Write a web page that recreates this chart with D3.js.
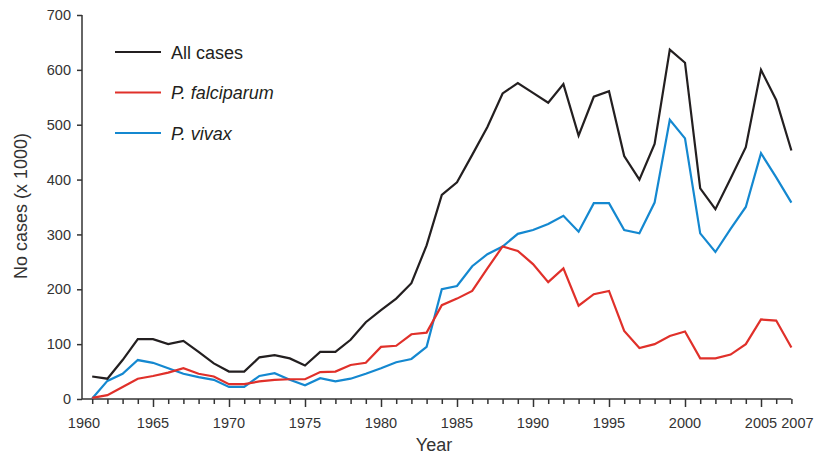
<!DOCTYPE html>
<html>
<head>
<meta charset="utf-8">
<script src="https://cdn.jsdelivr.net/npm/d3@7"></script>
<style>
  body { margin: 0; background: #fff; }
  svg { font-family: 'Liberation Sans', Arial, sans-serif; }
  .axis text { fill: #333; font-size: 14.5px; }
  .axis line, .axis path { stroke: #333; stroke-width: 1.5; }
  .series { fill: none; stroke-width: 2.2; stroke-linejoin: miter; }
</style>
</head>
<body>
<svg width="815" height="455"></svg>
<script>
// years 1961 - 2007
const years = d3.range(1961, 2008)

// cases x 1000
const allCases = [41, 37, 71, 109, 109, 100, 106, 86, 65, 50,
  50, 76, 80, 74, 61, 86, 86, 108, 140, 162,
  183, 211, 280, 372, 395, 445, 496, 557, 576, 558,
  540, 574, 480, 551, 561, 443, 400, 465, 637, 613,
  384, 346, 402, 459, 600, 545, 453]

const falciparum = [2, 7, 22, 37, 42, 48, 56, 46, 41, 27,
  27, 32, 35, 36, 36, 49, 50, 62, 66, 95,
  97, 118, 121, 171, 183, 197, 238, 278, 270, 246,
  213, 238, 170, 191, 197, 124, 93, 100, 115, 123,
  74, 74, 81, 100, 145, 143, 94]

const vivax = [1, 33, 46, 71, 66, 56, 46, 40, 35, 22,
  22, 42, 47, 35, 25, 38, 32, 37, 46, 56,
  67, 73, 95, 200, 206, 242, 264, 278, 301, 308,
  319, 334, 305, 357, 357, 308, 302, 358, 509, 475,
  302, 268, 310, 350, 448, 404, 358]

const yTicks = [0, 100, 200, 300, 400, 500, 600, 700]
const xLabels = [1960, 1965, 1970, 1975, 1980, 1985, 1990, 1995, 2000, 2005, 2007]

const seriesNames = ['All cases', 'P. falciparum', 'P. vivax']
const seriesColors = ['#231f20', '#e0302a', '#1488d0']

const svg = d3.select('svg')

const x = d3.scaleLinear()
  .domain([1960, 2007])
  .range([77, 791.4])

const y = d3.scaleLinear()
  .domain([0, 700])
  .range([399, 15])

const axisLeft = 82

// y axis
const yAxis = svg.append('g')
  .attr('class', 'axis')
  .attr('transform', `translate(${axisLeft},0)`)
  .call(d3.axisLeft(y).tickValues(yTicks).tickSize(5).tickSizeOuter(0).tickPadding(6))
yAxis.select('.domain').remove()
yAxis.append('line')
  .attr('x1', 0).attr('x2', 0)
  .attr('y1', y(700)).attr('y2', y(0))

// x axis, one tick a year, longer every 5
const xAxis = svg.append('g')
  .attr('class', 'axis')
  .attr('transform', `translate(0,${y(0)})`)
  .call(d3.axisBottom(x).tickValues(years).tickSize(5).tickFormat(''))
xAxis.select('.domain').remove()
xAxis.selectAll('.tick line')
  .attr('y2', d => d % 5 === 0 ? 8 : 5)
xAxis.append('line')
  .attr('x1', axisLeft).attr('x2', x(2007))
  .attr('y1', 0).attr('y2', 0)

xAxis.selectAll('text.lbl')
  .data(xLabels)
  .enter()
  .append('text')
  .attr('class', 'lbl')
  .attr('x', d => {
    if (d === 1960) return axisLeft + 2
    if (d === 2007) return x(d) + 6
    return x(d)
  })
  .attr('y', 28.5)
  .attr('text-anchor', 'middle')
  .text(d => d)

// axis titles
svg.append('text')
  .attr('x', 434)
  .attr('y', 451)
  .attr('text-anchor', 'middle')
  .style('font-size', '18px')
  .style('fill', '#333')
  .text('Year')

svg.append('text')
  .attr('transform', 'translate(27,206) rotate(-90)')
  .attr('text-anchor', 'middle')
  .style('font-size', '18px')
  .style('fill', '#333')
  .text('No cases (x 1000)')

// lines
const line = d3.line()
  .x((d, i) => x(years[i]))
  .y(d => y(d))

const allData = [allCases, falciparum, vivax]

// draw vivax and falciparum first so the total sits on top
;[2, 1, 0].forEach(k => {
  svg.append('path')
    .datum(allData[k])
    .attr('class', 'series')
    .attr('stroke', seriesColors[k])
    .attr('d', line)
})

// legend
const legend = svg.selectAll('g.legend')
  .data(seriesNames)
  .enter()
  .append('g')
  .attr('class', 'legend')
  .attr('transform', (d, i) => `translate(115, ${52 + i * 40.5})`)

legend.append('line')
  .attr('x1', 0).attr('x2', 46)
  .attr('y1', 0).attr('y2', 0)
  .attr('stroke', (d, i) => seriesColors[i])
  .attr('stroke-width', 2.2)

legend.append('text')
  .attr('x', 56)
  .attr('y', 6.5)
  .style('font-size', '18px')
  .style('fill', '#231f20')
  .style('font-style', (d, i) => i === 0 ? 'normal' : 'italic')
  .text(d => d)
</script>
</body>
</html>
